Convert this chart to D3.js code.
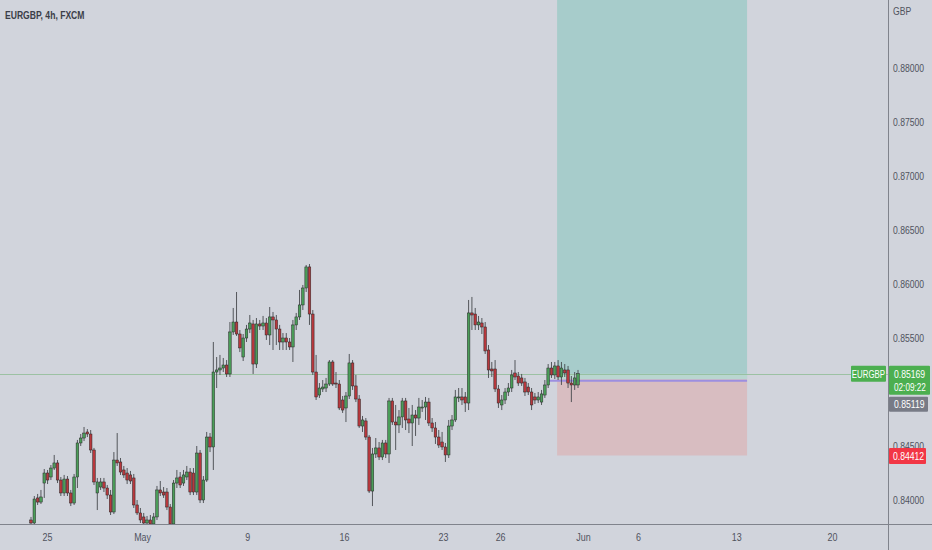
<!DOCTYPE html>
<html><head><meta charset="utf-8">
<script src="https://cdn.jsdelivr.net/npm/d3@7"></script>
<style>
html,body{margin:0;padding:0;background:#d1d4dc;}
svg{display:block;}
text{font-family:"Liberation Sans",Arial,sans-serif;}
</style></head><body>
<svg id="c" width="932" height="550"></svg>
<script>
const symbolTitle = "EURGBP, 4h, FXCM";
const currency = "GBP";
const open = [
.83815,.83787,.84019,.83981,.84157,.84250,.84213,.84296,.84343,.84185,
.84065,.84194,.84065,.83972,.84213,.84528,.84574,.84630,.84611,.84463,
.84065,.84120,.84167,.84111,.84046,.83889,.84370,.84352,.84278,.84250,
.84232,.84204,.83954,.83880,.83843,.83787,.83815,.83778,.83843,.84093,
.84074,.84074,.83935,.83778,.84157,.84213,.84157,.84213,.84259,.84250,
.84074,.84435,.84000,.84185,.84583,.84491,.85185,.85204,.85222,.85250,
.85167,.85556,.85648,.85537,.85324,.85500,.85583,.85630,.85259,.85630,
.85611,.85639,.85528,.85695,.85667,.85583,.85463,.85500,.85463,.85417,
.85621,.85695,.85806,.85963,.86158,.85722,.85185,.84972,.85028,.85037,
.85074,.85278,.85083,.85074,.84926,.84852,.84963,.85269,.85056,.84935,
.84685,.84732,.84583,.84083,.84426,.84482,.84398,.84528,.84426,.84917,
.84722,.84695,.84769,.84917,.84750,.84713,.84787,.84759,.84852,.84861,
.84907,.84713,.84667,.84583,.84537,.84491,.84417,.84685,.84741,.84945,
.84954,.84954,.84898,.85732,.85722,.85621,.85639,.85602,.85389,.85213,
.85213,.85028,.84880,.84926,.85000,.85037,.85176,.85148,.85130,.85093,
.85046,.85000,.84954,.84926,.84907,.84972,.85065,.85222,.85158,.85241,
.85139,.85204,.85204,.85083,.85065,.85065];
const high = [
.83843,.84037,.84056,.84093,.84287,.84278,.84324,.84417,.84370,.84213,
.84232,.84222,.84093,.84241,.84556,.84611,.84676,.84657,.84648,.84482,
.84204,.84204,.84204,.84139,.84093,.84444,.84620,.84389,.84315,.84296,
.84269,.84241,.84000,.83926,.83880,.83852,.83861,.83880,.84130,.84176,
.84120,.84111,.83963,.84185,.84278,.84259,.84278,.84315,.84296,.84296,
.84500,.84463,.84222,.84630,.84620,.85463,.85324,.85343,.85315,.85296,
.85648,.85778,.85926,.85574,.85537,.85621,.85713,.85667,.85685,.85667,
.85704,.85685,.85787,.85741,.85713,.85621,.85546,.85546,.85500,.85667,
.85732,.85945,.85991,.86176,.86185,.85759,.85343,.85083,.85111,.85130,
.85296,.85296,.85185,.85111,.84963,.85000,.85352,.85296,.85158,.84972,
.84778,.84759,.84602,.84482,.84574,.84537,.84556,.84556,.84945,.84945,
.84880,.84833,.84945,.84945,.84852,.84880,.84833,.84945,.84926,.84954,
.84945,.84759,.84722,.84648,.84630,.84528,.84741,.84787,.85019,.85037,
.85037,.85000,.85852,.85880,.85778,.85704,.85685,.85648,.85435,.85278,
.85296,.85065,.84972,.85037,.85083,.85204,.85296,.85185,.85167,.85130,
.85083,.85037,.84991,.85000,.85019,.85111,.85259,.85278,.85278,.85296,
.85278,.85259,.85241,.85148,.85185,.85204];
const low = [
.83759,.83759,.83954,.83963,.84019,.84148,.84185,.84278,.84157,.84037,
.84037,.84037,.83944,.83954,.84111,.84500,.84546,.84583,.84435,.84139,
.83907,.84093,.84074,.84009,.83861,.83870,.84315,.84232,.84204,.84148,
.84148,.83926,.83861,.83787,.83759,.83768,.83759,.83759,.83815,.84037,
.84019,.83907,.83759,.83759,.84111,.84111,.84130,.84185,.84046,.84046,
.84046,.83972,.83972,.84167,.84444,.84278,.85037,.85158,.85185,.85139,
.85139,.85528,.85519,.85370,.85287,.85463,.85546,.85167,.85222,.85574,
.85574,.85482,.85435,.85389,.85435,.85389,.85389,.85389,.85389,.85278,
.85574,.85667,.85759,.85926,.85621,.85158,.84926,.84945,.85000,.85000,
.85056,.85056,.85037,.84833,.84806,.84722,.84935,.85019,.84907,.84667,
.84630,.84556,.84065,.83944,.84389,.84370,.84370,.84389,.84343,.84695,
.84463,.84620,.84667,.84648,.84620,.84500,.84593,.84695,.84815,.84741,
.84685,.84630,.84519,.84482,.84463,.84352,.84389,.84648,.84722,.84907,
.84880,.84815,.84833,.85574,.85574,.85574,.85537,.85352,.85130,.85139,
.85000,.84852,.84833,.84889,.84963,.85000,.85111,.85056,.85056,.84963,
.84972,.84833,.84889,.84898,.84880,.84945,.85037,.85130,.85120,.85111,
.85065,.85139,.85037,.84907,.85019,.85037];
const close = [
.83787,.84009,.83981,.84028,.84250,.84185,.84296,.84343,.84185,.84065,
.84194,.84065,.83972,.84213,.84528,.84574,.84620,.84611,.84463,.84167,
.84167,.84167,.84111,.84046,.83889,.84370,.84343,.84259,.84232,.84185,
.84176,.83954,.83880,.83815,.83787,.83815,.83778,.83843,.84093,.84065,
.84046,.83935,.83778,.84157,.84204,.84139,.84232,.84259,.84074,.84074,
.84435,.84000,.84185,.84583,.84491,.85185,.85204,.85222,.85250,.85167,
.85556,.85648,.85537,.85408,.85500,.85583,.85639,.85259,.85630,.85611,
.85639,.85528,.85695,.85667,.85583,.85463,.85500,.85463,.85417,.85621,
.85695,.85806,.85963,.86158,.85722,.85185,.84954,.85037,.85046,.85074,
.85278,.85074,.85074,.84852,.84833,.84963,.85269,.85056,.84935,.84685,
.84741,.84583,.84083,.84426,.84482,.84398,.84528,.84426,.84917,.84722,
.84695,.84769,.84917,.84741,.84713,.84787,.84759,.84861,.84861,.84907,
.84713,.84667,.84583,.84509,.84491,.84417,.84685,.84741,.84954,.84954,
.84926,.84898,.85732,.85713,.85621,.85648,.85602,.85380,.85204,.85195,
.85028,.84898,.84926,.85000,.85037,.85158,.85139,.85083,.85083,.85000,
.85000,.84880,.84926,.84954,.84982,.85065,.85222,.85158,.85241,.85139,
.85222,.85176,.85083,.85065,.85130,.85169];

const yTicks = [0.84,0.845,0.85,0.855,0.86,0.865,0.87,0.875,0.88];
const xTickLabels = ["25","May","9","16","23","26","Jun","6","13","20"];
const xTickPos = [4.8,33.5,65.2,94.4,124.3,141.5,166.5,183.1,212.7,241.6];

// long position tool
const positionStart = 158.7, positionEnd = 216;
const entryPrice = 0.85119, stopPrice = 0.84412, targetPrice = 0.8870;
const lastPrice = 0.85169, countdown = "02:09:22", prevPrice = 0.85119;

const W = 932, H = 550, plotR = 888, plotB = 524;
const svg = d3.select("#c");
const x = d3.scaleLinear().domain([0, 165]).range([31, 578]);
const y = d3.scaleLinear().domain([0.84, 0.88]).range([500, 68]);

function condense(sel, f) {
  sel.each(function(){
    const len = this.getComputedTextLength();
    d3.select(this).attr("textLength", len * f).attr("lengthAdjust","spacingAndGlyphs");
  });
}

svg.append("rect").attr("width", W).attr("height", H).attr("fill", "#d1d4dc");
svg.append("defs").append("clipPath").attr("id","plot")
  .append("rect").attr("x",0).attr("y",0).attr("width",plotR).attr("height",plotB);
const g = svg.append("g").attr("clip-path","url(#plot)");

// position boxes
const bx0 = x(positionStart), bx1 = x(positionEnd);
g.append("rect").attr("x",bx0).attr("width",bx1-bx0)
  .attr("y",y(targetPrice)).attr("height",y(entryPrice)-y(targetPrice))
  .attr("fill","#a7cccb");
g.append("rect").attr("x",bx0).attr("width",bx1-bx0)
  .attr("y",y(entryPrice)).attr("height",y(stopPrice)-y(entryPrice))
  .attr("fill","#d8bdc1");
g.append("rect").attr("x",bx0).attr("width",bx1-bx0)
  .attr("y",y(lastPrice)).attr("height",y(entryPrice)-y(lastPrice))
  .attr("fill","#b9d6d0");
g.append("line").attr("x1",bx0-10).attr("x2",bx1)
  .attr("y1",y(entryPrice)+1.5).attr("y2",y(entryPrice)+1.5)
  .attr("stroke","#9d8fe0").attr("stroke-width",2);

// last price line
g.append("line").attr("x1",0).attr("x2",plotR)
  .attr("y1",Math.round(y(lastPrice))+0.5).attr("y2",Math.round(y(lastPrice))+0.5)
  .attr("stroke","#8fbd96").attr("stroke-width",1).attr("opacity",0.8);

// candles
const data = open.map((o,i)=>({i,o,h:high[i],l:low[i],c:close[i]}));
const up = "#4a9d58", dn = "#b8383d";
const cg = g.append("g");
cg.selectAll("line.w").data(data).join("line").attr("class","w")
  .attr("x1",d=>x(d.i)).attr("x2",d=>x(d.i))
  .attr("y1",d=>y(d.h)).attr("y2",d=>y(d.l))
  .attr("stroke","#45474c").attr("stroke-width",0.9);
cg.selectAll("rect.b").data(data).join("rect").attr("class","b")
  .attr("x",d=>x(d.i)-1.3).attr("width",2.6)
  .attr("y",d=>y(Math.max(d.o,d.c)))
  .attr("height",d=>Math.max(1,Math.abs(y(d.o)-y(d.c))))
  .attr("fill",d=>d.c>=d.o?up:dn)
  .attr("stroke","#262626").attr("stroke-width",0.5);

// axes lines
svg.append("line").attr("x1",plotR+0.5).attr("x2",plotR+0.5).attr("y1",0).attr("y2",H)
  .attr("stroke","#80838c").attr("stroke-width",1);
svg.append("line").attr("x1",0).attr("x2",W).attr("y1",plotB+0.5).attr("y2",plotB+0.5)
  .attr("stroke","#80838c").attr("stroke-width",1);

// price-label block on the axis (ticks hidden underneath it, like the platform does)
const ly = y(lastPrice);
const gyTop = ly + 23;
const labelBlock = [ly - 8, gyTop + 15];

// y axis
const ya = svg.append("g").attr("transform",`translate(${plotR},0)`)
  .call(d3.axisRight(y).tickValues(yTicks.filter(v => y(v) < labelBlock[0] - 4 || y(v) > labelBlock[1] + 4))
    .tickSize(0).tickPadding(5).tickFormat(d3.format(".5f")));
ya.select(".domain").remove();
ya.selectAll("text").attr("fill","#50535e").attr("font-size",10.5)
  .style("font-family",'"Liberation Sans",sans-serif');
condense(ya.selectAll("text"), 0.82);

const cur = svg.append("text").attr("x",plotR+5).attr("y",15).text(currency)
  .attr("fill","#50535e").attr("font-size",10.5);
condense(cur, 0.82);

// x axis
const xa = svg.append("g").attr("transform",`translate(0,${plotB})`)
  .call(d3.axisBottom(x).tickValues(xTickPos).tickSize(0).tickPadding(10)
    .tickFormat((d,i)=>xTickLabels[i]));
xa.select(".domain").remove();
xa.selectAll("text").attr("fill","#50535e").attr("font-size",10.5)
  .style("font-family",'"Liberation Sans",sans-serif');
condense(xa.selectAll("text"), 0.85);

// title
const tt = svg.append("text").attr("x",5).attr("y",19).text(symbolTitle)
  .attr("fill","#3b3e48").attr("font-size",11).attr("font-weight","bold");
condense(tt, 0.78);

// price labels
const fmt = d3.format(".5f");
svg.append("rect").attr("x",851).attr("y",ly-8).attr("width",35).attr("height",16)
  .attr("fill","#4caf50").attr("rx",1);
condense(svg.append("text").attr("x",868.5).attr("y",ly+4).attr("text-anchor","middle")
  .text("EURGBP").attr("fill","#fff").attr("font-size",10.5), 0.75);
svg.append("rect").attr("x",plotR+1).attr("y",ly-8).attr("width",41).attr("height",29)
  .attr("fill","#4caf50").attr("rx",1);
condense(svg.append("text").attr("x",plotR+6).attr("y",ly+4).text(fmt(lastPrice))
  .attr("fill","#fff").attr("font-size",10.5), 0.82);
condense(svg.append("text").attr("x",plotR+6).attr("y",ly+17).text(countdown)
  .attr("fill","#fff").attr("font-size",10.5), 0.78);
svg.append("rect").attr("x",plotR+1).attr("y",gyTop).attr("width",39).attr("height",15)
  .attr("fill","#787b86").attr("rx",1);
condense(svg.append("text").attr("x",plotR+6).attr("y",gyTop+11.5).text(fmt(prevPrice))
  .attr("fill","#fff").attr("font-size",10.5), 0.82);
const sy = y(stopPrice);
svg.append("rect").attr("x",plotR+1).attr("y",sy-7.5).attr("width",37).attr("height",16)
  .attr("fill","#f23645").attr("rx",1);
condense(svg.append("text").attr("x",plotR+5).attr("y",sy+4.5).text(fmt(stopPrice))
  .attr("fill","#fff").attr("font-size",10.5), 0.82);
</script>
</body></html>
